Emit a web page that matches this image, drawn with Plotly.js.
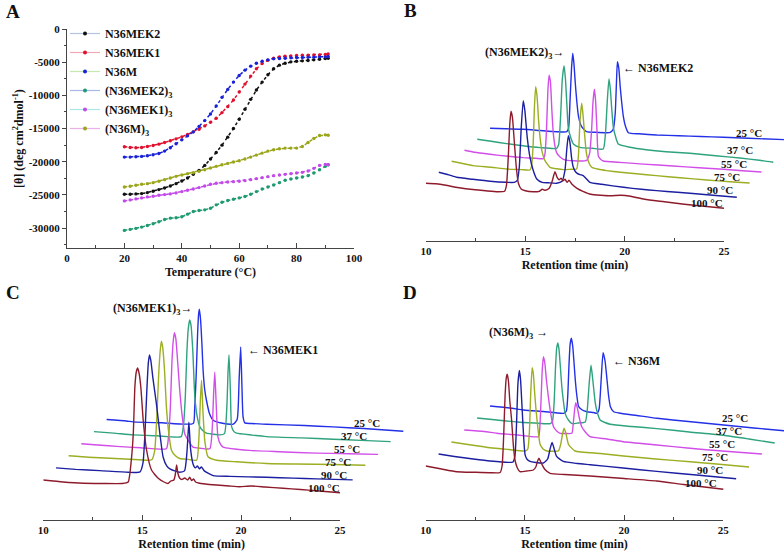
<!DOCTYPE html>
<html><head><meta charset="utf-8">
<script src="https://cdn.plot.ly/plotly-3.0.1.min.js"></script>
<style>html,body{margin:0;padding:0;background:#fff}#chart{width:784px;height:554px}</style>
</head><body><div id="chart"></div>
<script>
// ===== Panel A: CD thermal melts =====
const tempA = [20,22,24,26,28,30,32,34,36,38,40,42,44,46,48,50,52,54,56,58,60,62,64,66,68,70,72,74,76,78,80,82,84,86,88,90,91];
const cdN36MEK2 = [-24900,-24900,-24850,-24800,-24650,-24450,-24200,-23950,-23650,-23300,-22900,-22450,-21900,-21300,-20550,-19600,-18600,-17500,-16300,-15000,-13600,-12100,-10600,-9200,-8000,-6900,-6000,-5450,-5150,-4950,-4850,-4800,-4750,-4650,-4550,-4450,-4400];
const cdN36MEK1 = [-17750,-17850,-17900,-17850,-17700,-17550,-17350,-17100,-16850,-16550,-16250,-15900,-15500,-15100,-14600,-14050,-13450,-12600,-11700,-10700,-9500,-8300,-7100,-6000,-5200,-4700,-4400,-4200,-4100,-4050,-4000,-3950,-3950,-3900,-3900,-3850,-3750];
const cdN36M = [-19300,-19300,-19250,-19200,-19100,-18950,-18750,-18400,-17900,-17300,-16700,-16100,-15500,-14700,-13800,-12800,-11600,-10300,-9100,-8000,-7000,-6200,-5600,-5150,-4850,-4650,-4500,-4450,-4400,-4350,-4300,-4300,-4250,-4250,-4200,-4200,-4150];
const cdN36MEK2tri = [-30350,-30200,-30050,-29850,-29600,-29350,-29050,-28700,-28500,-28450,-28300,-27900,-27500,-27350,-27250,-27000,-26500,-26100,-25850,-25650,-25450,-25250,-24900,-24500,-24100,-23800,-23500,-23150,-22800,-22600,-22450,-22300,-22100,-21700,-21200,-20700,-20450];
const cdN36MEK1tri = [-25900,-25750,-25600,-25450,-25300,-25200,-25050,-24950,-24850,-24700,-24500,-24300,-24100,-23900,-23650,-23400,-23250,-23150,-23050,-23000,-22950,-22850,-22700,-22550,-22400,-22250,-22100,-22000,-21900,-21800,-21700,-21600,-21400,-21000,-20550,-20400,-20450];
const cdN36Mtri = [-23800,-23700,-23550,-23400,-23300,-23150,-22950,-22700,-22450,-22200,-22000,-21800,-21650,-21450,-21200,-20950,-20700,-20450,-20250,-20050,-19850,-19600,-19300,-19000,-18700,-18400,-18200,-18050,-17950,-17950,-17950,-17700,-17100,-16500,-16050,-15950,-16000];
const namesA = ['N36MEK2','N36MEK1','N36M','(N36MEK2)<sub>3</sub>','(N36MEK1)<sub>3</sub>','(N36M)<sub>3</sub>'];
const yTicksA = [0,-5000,-10000,-15000,-20000,-25000,-30000];
const xTicksA = [0,20,40,60,80,100];

// ===== Panels B-D: SEC chromatograms (time in min, signal in a.u.) =====
const tempLabels = ['100 °C','90 °C','75 °C','55 °C','37 °C','25 °C'];
const rtTicks = [10,15,20,25];

// B: N36MEK2
const bT100=[10,10.5,11,11.5,12,12.5,13,13.6,13.95,14.05,14.15,14.22,14.28,14.35,14.45,14.55,14.65,14.8,15.0,15.4,15.7,15.85,16.0,16.2,16.35,16.49,16.6,16.7,16.8,16.9,17.0,17.1,17.2,17.35,17.6,17.9,18.3,18.8,19.3,19.8,20.3,21,22,23,24,25];
const bS100=[0,-0.5,-2,-4,-5.5,-6.5,-7.5,-8.5,-8,-2,30,60,72,66,40,15,0,-6,-7.5,-8.5,-8,-6,-7,-5,2,11.6,6,3.5,5,2.5,4,1,3,-1,-5,-8,-11,-12,-12.5,-12,-13,-16,-18.5,-21,-23,-25];
const bT90=[10,10.5,10.9,11.7,12.58,13.4,13.8,13.95,14.05,14.15,14.25,14.33,14.45,14.59,14.75,14.93,15.2,15.5,15.93,16.2,16.35,16.45,16.52,16.6,16.68,16.77,16.9,17.02,17.15,17.27,17.4,17.6,18.2,19.3,20.2,20.96,22.0,22.64,23.5,25];
const bS90=[0,-2.5,-5,-7,-9,-10,-10,-8,5,45,71.7,62,35,15,2,-6.7,-10,-10.5,-11,-9,2,25,36.7,30,15,5,0,-1.7,-2.5,-3.3,-6,-10,-12,-15,-17,-18.3,-20,-21,-22.5,-25];
const bT75=[10,10.5,11.09,12.0,12.77,13.5,13.94,14.02,14.1,14.17,14.23,14.3,14.38,14.45,14.55,14.7,14.95,15.3,15.62,16.0,16.29,16.38,16.46,16.55,16.62,16.7,16.79,16.92,17.05,17.4,17.8,18.5,19.3,20.3,21.5,22.84,24,25];
const bS75=[0,-2,-4.3,-6,-7.7,-8.3,-8.7,-5,15,55,74.7,65,40,24,10,0.7,-6,-7.5,-8.3,-8,-7.7,5,40,58,45,25,7.3,-2,-6,-8,-9.3,-11,-12.5,-14.3,-16.5,-18.7,-20.5,-21.7];
const bT55=[10,10.5,11.29,12.2,12.96,13.6,13.97,14.05,14.13,14.2,14.26,14.33,14.4,14.47,14.55,14.64,14.8,14.98,15.5,16.15,16.3,16.4,16.47,16.54,16.6,16.67,16.74,16.85,16.99,17.4,18.0,19.0,20.5,21.8,23.03,24,24.95];
const bS55=[0,-2,-4,-6,-7.3,-8,-8.3,-4,20,60,75,68,40,17.7,5,-2.3,-6.5,-9,-10.5,-10,-3,20,48,61,50,20,-5.7,-9,-10.7,-11.5,-12.3,-13.8,-15.7,-17.5,-19,-20.5,-21.7];
const bT37=[10,10.7,11.48,12.3,13.16,14.0,14.1,14.2,14.28,14.37,14.44,14.51,14.58,14.7,14.84,15.17,15.8,16.34,16.45,16.55,16.63,16.7,16.77,16.85,16.97,17.1,17.69,18.5,19.5,20.7,22,23.22,24.2,24.9];
const bS37=[0,-2,-4.3,-6.5,-8.3,-9,-5,25,60,73.7,60,35,12,2,-4.7,-8,-9,-9.7,5,40,60.4,50,30,12,2,-4.7,-8,-10.5,-12.5,-14,-16.5,-18.7,-21,-23];
const bT25=[10,10.8,11.67,12.5,13.35,13.86,13.95,14.03,14.1,14.16,14.22,14.29,14.36,14.45,14.61,14.86,15.3,15.87,16.05,16.2,16.3,16.36,16.41,16.48,16.55,16.63,16.71,16.8,16.96,17.5,18.39,19.5,20.6,21.74,23,25];
const bS25=[0,-0.5,-1,-2.2,-3.4,-3.4,0,30,60,75,65,45,28,12,1.6,-3.4,-4,-4.4,-4,-1,15,45,66.6,60,41.6,25,11.6,3,-4.4,-5.5,-6.7,-7.5,-8.2,-9,-10,-11.5];

// C: N36MEK1
const cT100=[10,11,12.02,13,14.0,14.29,14.45,14.55,14.63,14.7,14.77,14.85,14.93,15.05,15.22,15.47,15.81,16.1,16.3,16.45,16.6,16.67,16.74,16.8,16.9,17.0,17.15,17.3,17.4,17.5,17.6,17.7,17.85,18.2,18.76,19.4,19.93,20.5,21.2,22.12,23,23.8,25];
const cS100=[0,-2,-3.3,-3.5,-3.5,-2,20,46.7,93,108,112,106,93,60,30,10,1.7,-2,-3.5,-1,0,5,15,7,1.7,0.5,2,0,2.7,-0.5,1,-2,-3,-4,-5,-6,-6.7,-6,-7,-8.3,-9.5,-10.7,-12.7];
const cT90=[10,11,12.22,13.65,14.25,14.4,14.5,14.6,14.67,14.73,14.8,14.9,15.08,15.25,15.42,15.6,15.76,16.0,16.26,16.5,16.62,16.72,16.8,16.93,17.05,17.15,17.25,17.35,17.5,17.95,18.8,20.64,22,23.17,25];
const cS90=[0,-1.5,-2.7,-4.4,-4,5,35,80,105,113,107,90,64,35,10.6,2,-1,-3,-4.4,-3,15,45.6,20,4,0,2,-1,1,-3,-7.7,-8.5,-9.4,-10.2,-11,-12];
const cT75=[10,11,11.58,13.1,14.2,14.35,14.45,14.55,14.63,14.69,14.76,14.85,14.95,15.08,15.2,15.4,15.62,16.0,16.47,16.58,16.66,16.72,16.79,16.89,17.05,17.48,18.5,20.0,21.5,23.37,25];
const cS75=[0,-1.5,-2,-3.4,-4,5,35,80,105,114.6,108,85,47,20,5.6,0,-2.7,-3.5,-4.4,15,55,75.6,45,14,-1,-4.4,-6,-7.7,-8.2,-8.7,-9.4];
const cT55=[10,11,11.78,13,14.3,14.4,14.5,14.58,14.65,14.71,14.78,14.88,14.98,15.1,15.23,15.45,15.65,16.0,16.5,16.62,16.69,16.75,16.82,16.91,17.05,17.17,18.5,20,21.87,23.5,25];
const cS55=[0,-1.5,-2.7,-4,-5,5,35,80,103,111,105,80,53,28,10,2,-3.4,-4.5,-5,15,50,71.6,40,6.6,-1,-3.4,-6.7,-8,-9.4,-10,-10.7];
const cT37=[10,11,11.97,13.2,14.41,14.52,14.62,14.7,14.77,14.84,14.91,15.0,15.1,15.22,15.35,15.5,15.69,16.0,16.36,16.6,16.72,16.78,16.83,16.9,16.96,17.08,17.21,18.0,18.72,20.5,22.09,23.5,25];
const cS37=[0,-1.5,-3.3,-4.2,-5,5,35,80,103,111.7,106,80,35,15,5,1,-1.6,-2.5,-3.3,-2,25,60,76.7,40,5,0,-1.6,-3.5,-5,-6.3,-7.6,-8.8,-10];
const cT25=[10,11,11.35,12.8,14.38,14.45,14.53,14.6,14.65,14.69,14.75,14.82,14.88,14.96,15.05,15.2,15.39,15.8,16.4,16.6,16.7,16.78,16.84,16.9,16.99,17.3,18.08,20,21.45,23,25];
const cS25=[0,-1.5,-2.4,-3.3,-4,10,45,85,105,110.3,100,75,49,30,19,6,-0.7,-3.5,-4.7,0,40,72.6,35,2.6,-3.4,-4,-4.7,-6,-7.4,-9,-11.7];

// D: N36M
const dT100=[10,10.8,11.56,12.5,13.24,13.75,13.85,13.93,14.0,14.06,14.11,14.17,14.24,14.33,14.42,14.5,14.62,14.75,15.1,15.42,15.55,15.64,15.71,15.8,16.0,16.27,17.0,18.28,20,21.64,23,25];
const dS100=[0,-3,-5.7,-6.3,-6.7,-6.5,0,30,70,88,91.7,85,65,46,20,6,-2,-5.7,-5,-4,-1,5,7.7,4,-3.3,-7.3,-8.5,-10,-12.5,-15,-18.5,-23.3];
const dT90=[10,10.8,11.75,12.6,13.52,13.75,13.85,13.93,14.0,14.07,14.13,14.2,14.28,14.36,14.45,14.61,14.9,15.28,15.5,15.62,15.72,15.8,15.95,16.29,17.0,17.64,19.3,21.0,23,25];
const dS90=[0,-2.5,-5,-7,-8.4,-8,-2,30,70,83.5,75,50,20,-0.7,-5,-7.4,-8.5,-9,-5,5,11.6,7,-2.4,-7.4,-9.5,-10.7,-14,-17.4,-21,-24.7];
const dT75=[10,11,11.95,12.9,13.72,13.85,13.93,14.0,14.07,14.13,14.2,14.27,14.37,14.47,14.62,14.81,15.1,15.39,15.5,15.6,15.68,15.78,15.9,16.23,17.5,18.67,20.3,22.03,23.5,25];
const dS75=[0,-3,-5.7,-7.5,-9,-7,10,50,74.3,68,48,31,12,-2.3,-7,-9,-9.2,-9,-3,8,13.7,8,-2.3,-9,-11.5,-14,-17,-19.7,-22.3,-25];
const dT55=[10,11,11.64,12.7,13.74,13.8,13.87,13.93,13.99,14.06,14.14,14.24,14.37,14.5,14.66,14.83,15.1,15.42,15.5,15.56,15.62,15.7,15.8,15.92,16.1,16.34,17.2,18.02,19.7,21.38,23,25];
const dS55=[0,-1.5,-3.3,-5,-6.7,0,30,60,73.3,67,50,33,15,3.3,-1,-3.3,-3.5,-3.3,8,20,27.3,22,12,3.3,-2,-6.7,-9,-11.7,-15,-18.3,-21,-24];
const dT37=[10,11,12.01,12.9,13.69,13.8,13.88,13.95,14.01,14.07,14.13,14.2,14.27,14.36,14.44,14.6,14.78,15.1,15.45,15.55,15.65,15.74,15.82,15.96,16.08,16.21,16.71,17.8,19.06,20.7,22.42,23.7,25];
const dS37=[0,-2,-4,-5,-5.6,-3,15,50,70,75,68,50,31,15,4.4,-2,-5.6,-5,-4,8,35,52.7,40,14.4,4,-2.3,-6.3,-8.5,-10.6,-14,-17.3,-21,-25];
const dT25=[10,11,11.7,12.7,13.71,13.85,13.92,13.98,14.04,14.1,14.17,14.23,14.3,14.38,14.47,14.65,14.89,15.2,15.4,15.5,15.6,15.7,15.8,15.9,15.98,16.07,16.23,16.5,17.4,18.42,20,21.78,23.3,25];
const dS25=[0,-2,-4,-5.5,-7.3,-5,10,40,62,67.7,60,45,26,10,-0.7,-4,-5.7,-6.5,-7.3,-3,25,53.3,45,26,10,-0.7,-5.7,-7,-9.5,-12.3,-15.5,-19,-22,-25];

// ===== styles =====
const FONT = "'Liberation Serif', 'Times New Roman', serif";
const W = 784, H = 554;
const px = x => x / W, py = y => 1 - y / H;
const darkA = ['#111111','#e0102e','#1a22d8','#1f9a70','#c24ae8','#9aa51a'];
const paleA = ['#b4c4dc','#f2a8b8','#c4e8b0','#a8b8e8','#a8e8e8','#eab0e8'];
const tempColors = ['#8e1b2b','#1c1fa0','#9cae22','#d24ee8','#2fa27e','#2330e6'];

const seriesA = [cdN36MEK2, cdN36MEK1, cdN36M, cdN36MEK2tri, cdN36MEK1tri, cdN36Mtri];
const traces = [];
seriesA.forEach((ys, i) => {
  traces.push({x: tempA, y: ys, xaxis: 'x', yaxis: 'y', type: 'scatter', mode: 'lines+markers',
    line: {color: darkA[i], width: 1.5, dash: 'dot'}, marker: {color: darkA[i], size: 3.4},
    showlegend: false, hoverinfo: 'skip', cliponaxis: false});
});
seriesA.forEach((ys, i) => {
  traces.push({x: [null], y: [null], xaxis: 'x', yaxis: 'y', type: 'scatter', mode: 'lines+markers',
    name: namesA[i], line: {color: paleA[i], width: 1.2}, marker: {color: darkA[i], size: 4},
    showlegend: true, hoverinfo: 'skip'});
});

const panels = [
  {times: [bT100,bT90,bT75,bT55,bT37,bT25], sig: [bS100,bS90,bS75,bS55,bS37,bS25], xa: 'x3', ya: 'y2', axisX: 'x2', dx: 0.645, dy: 11},
  {times: [cT100,cT90,cT75,cT55,cT37,cT25], sig: [cS100,cS90,cS75,cS55,cS37,cS25], xa: 'x5', ya: 'y3', axisX: 'x4', dx: 0.64, dy: 12.1},
  {times: [dT100,dT90,dT75,dT55,dT37,dT25], sig: [dS100,dS90,dS75,dS55,dS37,dS25], xa: 'x7', ya: 'y4', axisX: 'x6', dx: 0.648, dy: 12}
];
panels.forEach(p => {
  traces.push({x: [], y: [], xaxis: p.axisX, yaxis: p.ya, type: 'scatter', mode: 'lines', showlegend: false, hoverinfo: 'skip'});
  for (let k = 5; k >= 0; k--) {
    traces.push({
      x: p.times[k].map(t => t + k * p.dx),
      y: p.sig[k].map(s => s + k * p.dy),
      xaxis: p.xa, yaxis: p.ya, type: 'scatter', mode: 'lines',
      line: {color: tempColors[k], width: 1.4, shape: 'spline', smoothing: 0.5},
      name: tempLabels[k], showlegend: false, hoverinfo: 'skip'
    });
  }
});

const tickFont = {family: FONT, size: 11, color: '#111', weight: 'bold'};
const titleFont = {family: FONT, size: 12, color: '#111', weight: 'bold'};
function rtAxis(x0, x1, anchor) {
  return {domain: [px(x0), px(x1)], range: [10, 25], anchor: anchor, showline: true, linecolor: '#444', linewidth: 1,
    ticks: 'inside', ticklen: 5, tickcolor: '#444', tickvals: rtTicks, ticktext: rtTicks.map(String), tickfont: tickFont,
    minor: {dtick: 2.5, tick0: 10, ticks: 'inside', ticklen: 3, tickcolor: '#444'},
    showgrid: false, zeroline: false, fixedrange: true,
    title: {text: 'Retention time (min)', font: titleFont, standoff: 4}};
}
function hidden(obj) { return Object.assign({visible: false, showgrid: false, zeroline: false, fixedrange: true}, obj); }

const layout = {
  width: W, height: H, margin: {l: 0, r: 0, t: 0, b: 0},
  paper_bgcolor: '#ffffff', plot_bgcolor: 'rgba(0,0,0,0)',
  font: {family: FONT, color: '#111', size: 12},
  xaxis: {domain: [px(67), px(354)], range: [0, 100], anchor: 'y', showline: true, linecolor: '#444', linewidth: 1,
    ticks: 'inside', ticklen: 5, tickcolor: '#444', tickvals: xTicksA, ticktext: xTicksA.map(String), tickfont: tickFont,
    minor: {dtick: 10, ticks: 'inside', ticklen: 3, tickcolor: '#444'}, showgrid: false, zeroline: false, fixedrange: true,
    title: {text: 'Temperature (°C)', font: titleFont, standoff: 4}},
  yaxis: {domain: [py(248), py(29)], range: [-33000, 0], anchor: 'x', showline: true, linecolor: '#444', linewidth: 1,
    ticks: 'outside', ticklen: 4, tickcolor: '#444', tickvals: yTicksA, ticktext: yTicksA.map(String), tickfont: tickFont,
    minor: {dtick: 2500, ticks: 'outside', ticklen: 2, tickcolor: '#444'}, showgrid: false, zeroline: false, fixedrange: true,
    title: {text: '[θ] (deg cm<sup>2</sup>dmol<sup>-1</sup>)', font: titleFont, standoff: 2}},
  xaxis2: rtAxis(426, 724, 'y2'),
  yaxis2: hidden({domain: [py(241), py(40)], range: [-57.7, 143.3], anchor: 'x2'}),
  xaxis3: hidden({domain: [px(426), 1], range: [10, 10 + (784 - 426) / 19.867], anchor: 'y2'}),
  xaxis4: rtAxis(43.3, 340, 'y3'),
  yaxis3: hidden({domain: [py(520), py(300)], range: [-40, 180], anchor: 'x4'}),
  xaxis5: hidden({domain: [px(43.3), px(420)], range: [10, 10 + (420 - 43.3) / 19.78], anchor: 'y3'}),
  xaxis6: rtAxis(425.7, 723.3, 'y4'),
  yaxis4: hidden({domain: [py(520), py(300)], range: [-54, 166], anchor: 'x6'}),
  xaxis7: hidden({domain: [px(425.7), 1], range: [10, 10 + (784 - 425.7) / 19.84], anchor: 'y4'}),
  showlegend: true,
  legend: {x: px(65), y: py(19), xanchor: 'left', yanchor: 'top', bgcolor: 'rgba(0,0,0,0)', borderwidth: 0,
    font: {family: FONT, size: 12, color: '#111', weight: 'bold'}, itemwidth: 30, tracegroupgap: 0},
  annotations: []
};

function ann(text, x, y, xanchor, size) {
  layout.annotations.push({text: text, x: px(x), y: py(y), xref: 'paper', yref: 'paper', xanchor: xanchor || 'center',
    yanchor: 'middle', showarrow: false, borderpad: 0, font: {family: FONT, size: size || 12, color: '#111', weight: 'bold'}});
}
// panel letters
ann('A', 13, 12, 'center', 19); ann('B', 410, 11, 'center', 19);
ann('C', 13, 292, 'center', 19); ann('D', 410, 292, 'center', 19);
// temperature labels (right edges, centre heights in px)
const labB = [[724,203],[734,190],[741,177],[748,164],[754,150],[763,133]];
const labC = [[341,488],[348,475],[352,462],[361,449],[368,436],[381,423]];
const labD = [[718,483],[724,470],[729,457],[736,444],[743,431],[749,418]];
[labB, labC, labD].forEach(L => L.forEach((p, k) => ann(tempLabels[k], p[0], p[1], 'right', 11)));
// peak labels
ann('(N36MEK2)<sub>3</sub>→', 566, 53, 'right', 12);
ann('← N36MEK2', 622, 68, 'left', 12);
ann('(N36MEK1)<sub>3</sub>→', 194, 309, 'right', 12);
ann('← N36MEK1', 247, 350, 'left', 12);
ann('(N36M)<sub>3</sub> →', 549, 333, 'right', 12);
ann('← N36M', 612, 361, 'left', 12);

Plotly.newPlot('chart', traces, layout, {displayModeBar: false, staticPlot: true});
</script>
</body></html>
